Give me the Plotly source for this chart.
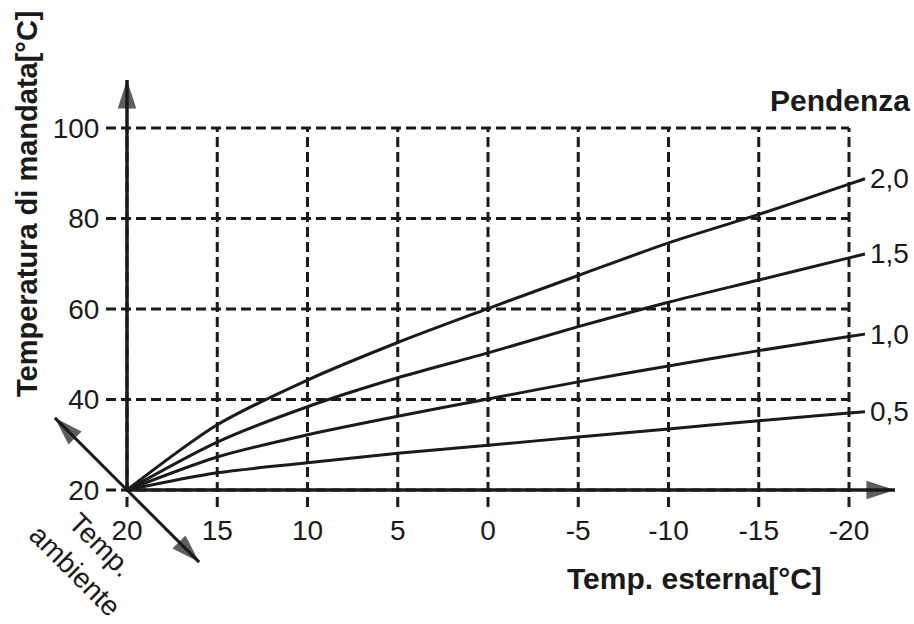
import plotly.graph_objects as go

# ---------------- data ----------------
outdoor_temp = [20, 15, 10, 5, 0, -5, -10, -15, -20]
flow_slope_20 = [20, 34.4, 44.3, 52.6, 60.1, 67.4, 74.6, 80.9, 87.6]
flow_slope_15 = [20, 30.6, 38.4, 44.8, 50.3, 56.1, 61.5, 66.4, 71.3]
flow_slope_10 = [20, 27.3, 32.2, 36.3, 40.1, 43.9, 47.4, 50.8, 53.9]
flow_slope_05 = [20, 23.8, 26.0, 28.1, 29.9, 31.7, 33.5, 35.3, 37.0]
slope_labels = ["2,0", "1,5", "1,0", "0,5"]

x_tickvals = [20, 15, 10, 5, 0, -5, -10, -15, -20]
x_ticktext = ["20", "15", "10", "5", "0", "-5", "-10", "-15", "-20"]
y_tickvals = [20, 40, 60, 80, 100]
y_ticktext = ["20", "40", "60", "80", "100"]

# ---------------- layout geometry ----------------
W, H = 914, 624
OX, OY = 127, 490            # pixel position of the origin (20, 20)
XS, YS = 18.05, 4.525        # pixels per data unit
X0, Y0 = 20, 20

def dx(px):
    return X0 - (px - OX) / XS

def dy(py):
    return Y0 + (OY - py) / YS

x_range = [dx(0), dx(W)]
y_range = [dy(H), dy(0)]

INK = "#1a1a1a"
FONT = "Liberation Sans, Arial, Helvetica, sans-serif"

fig = go.Figure()

# ---------------- dashed grid ----------------
gx, gy = [], []
for t in y_tickvals:
    gx += [dx(OX - 21), min(x_tickvals), None]
    gy += [t, t, None]
for t in x_tickvals:
    gx += [t, t, None]
    gy += [dy(OY + 17), max(y_tickvals), None]
fig.add_trace(go.Scatter(x=gx, y=gy, mode="lines",
                         line=dict(color=INK, width=3, dash="10px,5px"),
                         hoverinfo="skip", showlegend=False))

# ---------------- curves ----------------
leader_px = 16
series = [flow_slope_20, flow_slope_15, flow_slope_10, flow_slope_05]
for vals, lab in zip(series, slope_labels):
    x_end = outdoor_temp[-1] - leader_px / XS
    slope = (vals[-1] - vals[-2]) / (outdoor_temp[-1] - outdoor_temp[-2])
    y_end = vals[-1] + slope * (x_end - outdoor_temp[-1])
    fig.add_trace(go.Scatter(x=outdoor_temp + [x_end], y=vals + [y_end],
                             mode="lines",
                             line=dict(color=INK, width=3, shape="spline", smoothing=0.8),
                             hoverinfo="skip", showlegend=False))
    fig.add_annotation(x=x_end, y=y_end, text=lab, showarrow=False,
                       xanchor="left", yanchor="middle", xshift=3,
                       font=dict(family=FONT, size=28, color=INK))

# ---------------- axis arrows ----------------
def arrow(x_tip, y_tip, width=3.5):
    fig.add_trace(go.Scatter(
        x=[X0, x_tip], y=[Y0, y_tip], mode="lines+markers",
        line=dict(color=INK, width=width, backoff=[0, 14]),
        marker=dict(symbol="arrow", size=[0, 30], color=INK, angleref="previous",
                    line=dict(width=0)),
        hoverinfo="skip", showlegend=False))

arrow(dx(895), Y0)           # x axis
arrow(X0, dy(80))            # y axis
diag = 102 / 2 ** 0.5
arrow(dx(OX - diag), dy(OY - diag), 3)   # room temperature (up-left)
arrow(dx(OX + diag), dy(OY + diag), 3)   # room temperature (down-right)

# ---------------- texts ----------------
def ann(text, px, py, size, bold=False, angle=0, xanchor="center"):
    fig.add_annotation(xref="paper", yref="paper",
                       x=px / W, y=1 - py / H,
                       text=f"<b>{text}</b>" if bold else text, showarrow=False,
                       textangle=angle, xanchor=xanchor, yanchor="middle",
                       font=dict(family=FONT, size=size, color=INK))

ann("Temperatura di mandata[°C]", 27, 204, 29, bold=True, angle=-90)
ann("Temp. esterna[°C]", 694, 578, 30, bold=True)
ann("Pendenza", 912, 101, 30, bold=True, xanchor="right")
ann("Temp.<br>ambiente", 88, 557, 28, angle=45)

fig.update_layout(
    width=W, height=H, autosize=False,
    margin=dict(l=0, r=0, t=0, b=0),
    paper_bgcolor="white", plot_bgcolor="white",
    xaxis=dict(range=x_range, anchor="free", position=(H - OY) / H,
               tickvals=x_tickvals, ticktext=x_ticktext,
               showgrid=False, zeroline=False, showline=False,
               ticks="outside", ticklen=15, tickcolor="rgba(0,0,0,0)",
               tickfont=dict(family=FONT, size=28, color=INK)),
    yaxis=dict(range=y_range, anchor="free", position=OX / W,
               tickvals=y_tickvals, ticktext=y_ticktext,
               showgrid=False, zeroline=False, showline=False,
               ticks="outside", ticklen=22, tickcolor="rgba(0,0,0,0)",
               tickfont=dict(family=FONT, size=28, color=INK)),
)

fig.write_html("out.html",
               config={"displayModeBar": False},
               post_script="document.body.style.margin='0px';"
                           "document.body.style.overflow='hidden';")
